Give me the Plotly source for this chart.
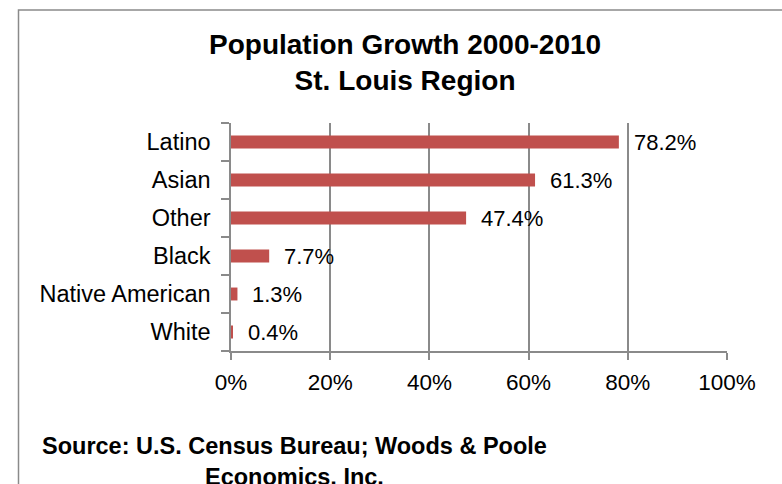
import plotly.graph_objects as go

categories = ["White", "Native American", "Black", "Other", "Asian", "Latino"]
growth_pct = [0.4, 1.3, 7.7, 47.4, 61.3, 78.2]
x_tick_vals = [0, 20, 40, 60, 80, 100]
x_tick_text = ["0%", "20%", "40%", "60%", "80%", "100%"]
title_lines = ["Population Growth 2000-2010", "St. Louis Region"]
source_lines = ["Source: U.S. Census Bureau; Woods &amp; Poole", "Economics, Inc."]

W, H = 782, 484
FONT = "Liberation Sans, Arial, sans-serif"
GRID = "#8a8a8a"
BAR = "#C0504D"

def px_x(p):
    return p / W

def px_y(p):
    return 1 - p / H

fig = go.Figure()
fig.add_trace(go.Bar(
    y=categories, x=growth_pct, orientation="h",
    marker=dict(color=BAR, line=dict(width=0)),
    width=0.34, hoverinfo="skip",
))

annotations = []
for c, v in zip(categories, growth_pct):
    annotations.append(dict(
        x=v, y=c, xref="x", yref="y", text=f"{v:.1f}%", showarrow=False,
        xanchor="left", yanchor="middle", xshift=13,
        font=dict(family=FONT, size=22, color="#000"),
    ))

annotations.append(dict(
    x=px_x(405), y=px_y(62), xref="paper", yref="paper",
    text="<b>" + "<br>".join(title_lines) + "</b>", showarrow=False,
    xanchor="center", yanchor="middle", align="center",
    font=dict(family=FONT, size=28, color="#000"),
))
annotations.append(dict(
    x=px_x(294), y=px_y(431), xref="paper", yref="paper",
    text="<b>" + "<br>".join(source_lines) + "</b>", showarrow=False,
    xanchor="center", yanchor="top", align="center",
    font=dict(family=FONT, size=23.5, color="#000"),
))

fig.update_layout(
    width=W, height=H,
    margin=dict(l=0, r=0, t=0, b=0),
    paper_bgcolor="white", plot_bgcolor="white",
    showlegend=False,
    annotations=annotations,
    shapes=[dict(type="rect", xref="paper", yref="paper",
                 x0=px_x(18.5), x1=1.05, y0=-0.05, y1=px_y(10),
                 line=dict(color="#8a8a8a", width=1.5), fillcolor="rgba(0,0,0,0)",
                 layer="below")],
    xaxis=dict(
        domain=[px_x(231), px_x(727)],
        range=[0, 100], automargin=False,
        tickvals=x_tick_vals, ticktext=x_tick_text,
        showgrid=True, gridcolor=GRID, gridwidth=1.5,
        showline=True, linecolor=GRID, linewidth=1.5,
        ticks="outside", ticklen=7, tickcolor=GRID, tickwidth=1.5,
        ticklabelstandoff=3,
        tickfont=dict(family=FONT, size=22.5, color="#000"),
        zeroline=False, fixedrange=True,
    ),
    yaxis=dict(
        domain=[px_y(351), px_y(123)],
        type="category", automargin=False,
        categoryorder="array", categoryarray=categories,
        showline=True, linecolor=GRID, linewidth=1.5,
        ticks="outside", ticklen=8, tickcolor=GRID, tickwidth=1.5,
        tickson="boundaries", ticklabelstandoff=14,
        tickfont=dict(family=FONT, size=23.5, color="#000"),
        showgrid=False, zeroline=False, fixedrange=True,
    ),
)

fig.write_html("out.html", config={"displayModeBar": False},
               post_script="document.body.style.margin='0';document.body.style.overflow='hidden';")
